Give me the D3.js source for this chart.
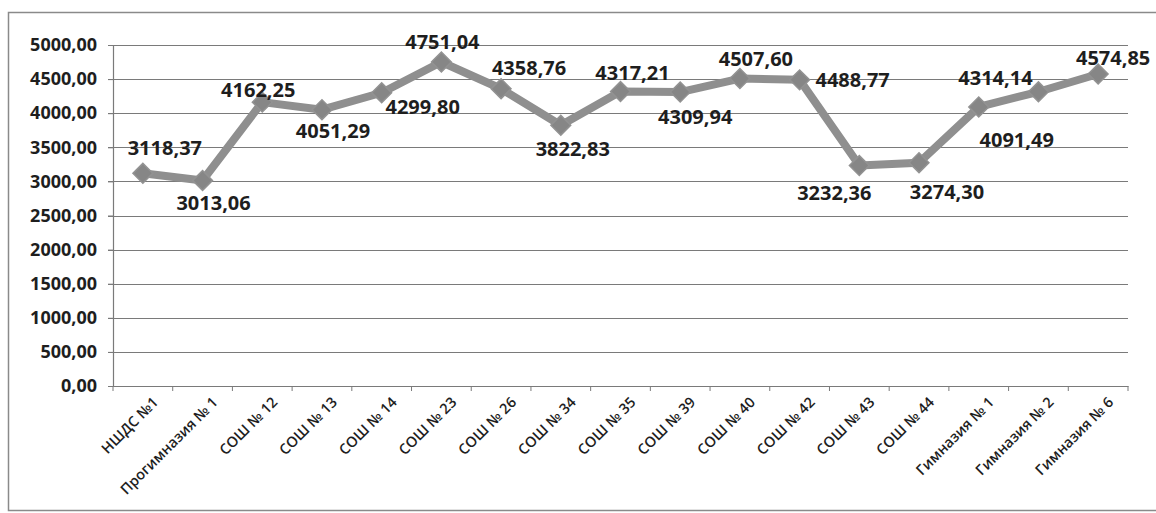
<!DOCTYPE html>
<html>
<head>
<meta charset="utf-8">
<script src="https://cdn.jsdelivr.net/npm/d3@7"></script>
<style>
  body { margin: 0; background: #fff; }
  text { font-family: "Open Sans", sans-serif; fill: #1e1e1e; }
</style>
</head>
<body>
<script>
// data
let schools = ["НШДС №1", "Прогимназия № 1", "СОШ № 12", "СОШ № 13", "СОШ № 14", "СОШ № 23",
               "СОШ № 26", "СОШ № 34", "СОШ № 35", "СОШ № 39", "СОШ № 40", "СОШ № 42",
               "СОШ № 43", "СОШ № 44", "Гимназия № 1", "Гимназия № 2", "Гимназия № 6"];
let values = [3118.37, 3013.06, 4162.25, 4051.29, 4299.80, 4751.04,
              4358.76, 3822.83, 4317.21, 4309.94, 4507.60, 4488.77,
              3232.36, 3274.30, 4091.49, 4314.14, 4574.85];
let yTicks = [0, 500, 1000, 1500, 2000, 2500, 3000, 3500, 4000, 4500, 5000];

// label offsets from the point (manually placed in the original)
let labelOffsets = [[22, -26], [11, 22], [-4, -12], [11, 21], [41, 14], [1, -20],
                    [28, -21], [12, 24], [12, -19], [15, 25], [16, -20], [53, 0],
                    [-25, 27], [28, 29], [38, 33], [-43, -14], [15, -16]];

let width = 1156;
let height = 513;

let svg = d3.select("body")
            .append("svg")
            .attr("width", width)
            .attr("height", height);

// scanned frame
svg.append("rect")
    .attr("x", 8.5)
    .attr("y", 12.5)
    .attr("width", 1160)
    .attr("height", 498)
    .attr("fill", "none")
    .attr("stroke", "#8a8a8a")
    .attr("stroke-width", 1.5);

let x = d3.scaleBand()
            .domain(schools)
            .range([113, 1128]);

let y = d3.scaleLinear()
            .domain([0, 5000])
            .range([386, 45]);

let fmt = v => d3.format(".2f")(v).replace(".", ",");

// gridlines
svg.append("g")
    .selectAll("line")
    .data(yTicks.filter(d => d > 0))
    .join("line")
    .attr("x1", 108)
    .attr("x2", 1128)
    .attr("y1", d => Math.round(y(d)) + 0.5)
    .attr("y2", d => Math.round(y(d)) + 0.5)
    .attr("stroke", "#7a7a7a")
    .attr("stroke-width", 1.2);

// y axis
let yAxis = svg.append("g")
    .attr("transform", "translate(113,0)")
    .call(d3.axisLeft(y).tickValues(yTicks).tickSize(5).tickPadding(11).tickFormat(fmt));
yAxis.select(".domain").attr("stroke", "#7a7a7a").attr("stroke-width", 1.2);
yAxis.selectAll(".tick line").attr("stroke", "#7a7a7a");
yAxis.selectAll("text")
    .style("font-size", "18px")
    .style("font-weight", "700")
    .attr("fill", "#1e1e1e");

// x axis
let xAxis = svg.append("g")
    .attr("transform", "translate(0," + y(0) + ")")
    .call(d3.axisBottom(x).tickSize(0).tickFormat(""));
xAxis.select(".domain").attr("stroke", "#7a7a7a").attr("stroke-width", 1.2);

// category ticks between bands
svg.append("g")
    .selectAll("line")
    .data(schools.concat(["end"]))
    .join("line")
    .attr("x1", (d, i) => 113 + i * x.step())
    .attr("x2", (d, i) => 113 + i * x.step())
    .attr("y1", y(0))
    .attr("y2", y(0) + 5)
    .attr("stroke", "#7a7a7a");

svg.append("g")
    .selectAll("text")
    .data(schools)
    .join("text")
    .attr("transform", d => "translate(" + (x(d) + x.bandwidth() / 2 + 9) + "," + (y(0) + 10) + ") rotate(-45)")
    .attr("text-anchor", "end")
    .attr("dy", "0.7em")
    .style("font-size", "14.5px")
    .style("font-weight", "600")
    .text(d => d);

// line
let cx = (d, i) => x(schools[i]) + x.bandwidth() / 2;

svg.append("path")
    .datum(values)
    .attr("fill", "none")
    .attr("stroke", "#8f8f8f")
    .attr("stroke-width", 8)
    .attr("stroke-linejoin", "round")
    .attr("d", d3.line().x(cx).y(d => y(d)));

svg.append("g")
    .selectAll("path")
    .data(values)
    .join("path")
    .attr("transform", (d, i) => "translate(" + cx(d, i) + "," + y(d) + ") rotate(45)")
    .attr("d", "M-7,-7H7V7H-7Z")
    .attr("fill", "#868686")
    .attr("stroke", "#929292")
    .attr("stroke-width", 1.5);

// data labels
svg.append("g")
    .selectAll("text")
    .data(values)
    .join("text")
    .attr("x", (d, i) => cx(d, i) + labelOffsets[i][0])
    .attr("y", (d, i) => y(d) + labelOffsets[i][1])
    .attr("text-anchor", "middle")
    .attr("dy", "0.36em")
    .style("font-size", "20px")
    .style("font-weight", "700")
    .text(d => fmt(d));
</script>
</body>
</html>
